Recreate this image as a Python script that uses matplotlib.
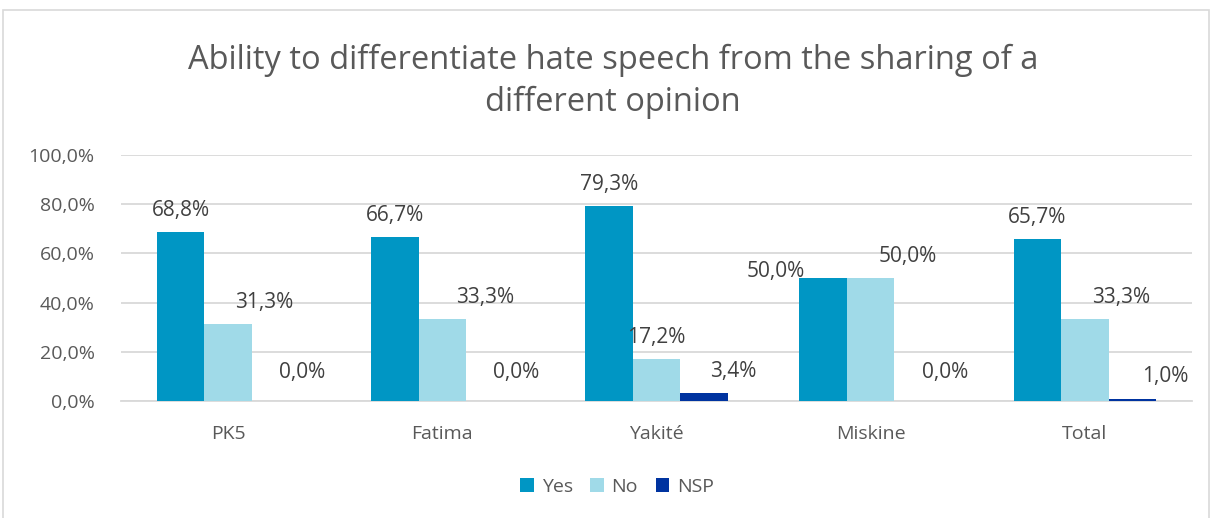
import matplotlib
matplotlib.use("Agg")
import matplotlib.pyplot as plt
import numpy as np
from matplotlib.patches import Rectangle

categories = ["PK5", "Fatima", "Yakité", "Miskine", "Total"]
yes = [68.8, 66.7, 79.3, 50.0, 65.7]
no = [31.3, 33.3, 17.2, 50.0, 33.3]
nsp = [0.0, 0.0, 3.4, 0.0, 1.0]
series = [("Yes", yes, "#0096C4"), ("No", no, "#A0DAE8"), ("NSP", nsp, "#0033A0")]
yticks = [0, 20, 40, 60, 80, 100]

# horizontal label nudges (pixels), as placed by the original layout
label_dx = {
    "Yes": [0, 0, 0, -47, 0],
    "No": [36, 43, 0, 37, 36],
    "NSP": [26, 26, 29, 27, 33],
}

plt.rcParams['font.family'] = ['Open Sans', 'DejaVu Sans']
TXT = "#595959"

W, H = 1215, 518
fig = plt.figure(figsize=(W/100, H/100), dpi=100)
fig.patches.append(Rectangle((3/W, -0.01), (1209-3)/W, (H-10)/H + 0.01, transform=fig.transFigure,
                             fill=False, edgecolor="#D9D9D9", linewidth=1.2))

left, right = 121, 1192
bottom, top = 401, 155
ax = fig.add_axes([left/W, 1-bottom/H, (right-left)/W, (bottom-top)/H])

x = np.arange(len(categories))
bw = 0.222
px2pt = 72/100
for i, (name, vals, col) in enumerate(series):
    pos = x + (i-1)*bw
    ax.bar(pos, vals, width=bw, color=col, label=name, zorder=3)
    for j, (p, v) in enumerate(zip(pos, vals)):
        dy = 8 if v > 0 else 13
        if categories[j] == "Miskine" and name == "Yes":
            dy = -3
        ax.annotate(f"{v:.1f}%".replace(".", ","), (p, v),
                    xytext=(label_dx[name][j]*px2pt, dy),
                    textcoords="offset points", ha="center", va="bottom",
                    fontsize=15, color="#404040", zorder=4)

ax.set_xlim(-0.5, len(categories)-0.5)
ax.set_ylim(0, 100)
ax.set_yticks(yticks)
ax.set_yticklabels([f"{t:.1f}%".replace(".", ",") for t in yticks])
ax.set_xticks(x)
ax.set_xticklabels(categories)
ax.tick_params(axis="both", length=0, labelsize=14, labelcolor=TXT)
ax.tick_params(axis="x", pad=17)
ax.tick_params(axis="y", pad=19)
ax.grid(axis="y", color="#D9D9D9", linewidth=1.3, zorder=0)
for s in ["top", "right", "left"]:
    ax.spines[s].set_visible(False)
ax.spines["bottom"].set_color("#D9D9D9")
ax.spines["bottom"].set_linewidth(1.3)

fig.text(613/W, 1-81/H, "Ability to differentiate hate speech from the sharing of a\ndifferent opinion",
         ha="center", va="center", fontsize=23.5, color=TXT, linespacing=1.35)

fig.legend(loc="center", bbox_to_anchor=(617/W, 1-487/H), ncol=3, frameon=False,
           fontsize=14, labelcolor=TXT, handlelength=0.7, handleheight=0.7,
           handletextpad=0.4, columnspacing=0.9)

fig.savefig("out.png", dpi=100)
